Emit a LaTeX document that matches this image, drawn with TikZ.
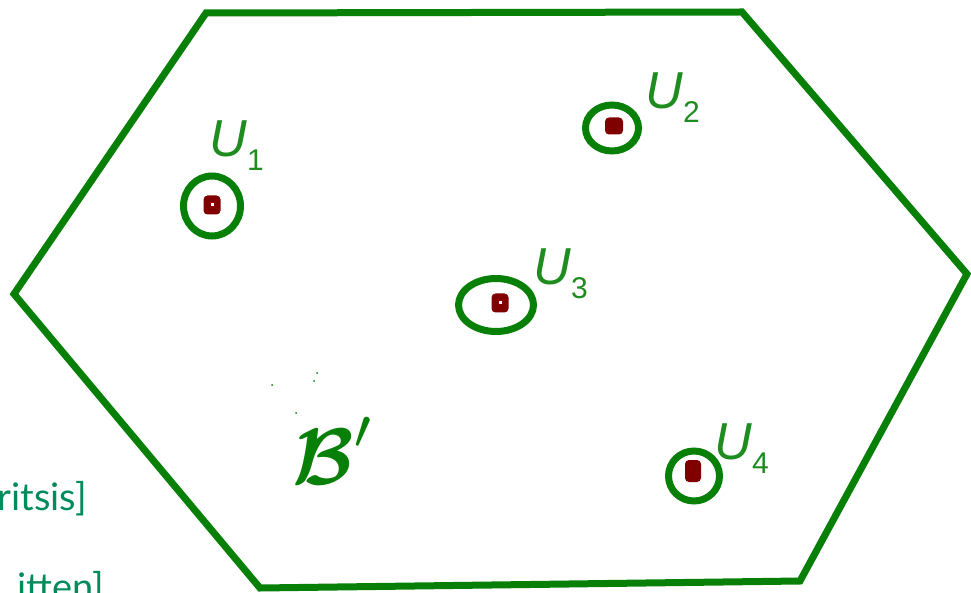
\documentclass[tikz,border=0pt]{standalone}
\usepackage{bm}
\usepackage{fontspec}
\setmainfont{Liberation Sans}
\newfontfamily\notefont{Lato}
\usetikzlibrary{shapes.geometric}
\definecolor{hexgreen}{RGB}{8,128,8}
\definecolor{labgreen}{RGB}{30,140,30}
\definecolor{dotred}{RGB}{128,0,0}
\definecolor{noteteal}{RGB}{0,140,90}
\tikzset{
  hexline/.style={draw=hexgreen, line width=7pt, line join=miter},
  ring/.style={ellipse, draw=hexgreen, line width=7pt, inner sep=0pt},
  pt/.style={rectangle, rounded corners=4pt, fill=dotred, inner sep=0pt},
  hole/.style={rectangle, fill=white, inner sep=0pt, minimum size=3pt},
  ulabel/.style={anchor=base west, inner sep=0pt, text=labgreen, font=\fontsize{52}{52}\selectfont},
  note/.style={anchor=base east, inner sep=0pt, text=noteteal, font=\notefont\fontsize{38}{40}\selectfont},
  speck/.style={circle, fill=hexgreen, inner sep=0pt, minimum size=2pt}
}
\newcommand{\ulab}[1]{\textit{U}\raisebox{-14pt}{\fontsize{30}{30}\selectfont #1}}
\begin{document}
\begin{tikzpicture}[x=1pt,y=-1pt]
\useasboundingbox[fill=white] (0,0) rectangle (971,593);
% hexagon
\coordinate (h1) at (206,13);
\coordinate (h2) at (742,12);
\coordinate (h3) at (967,274);
\coordinate (h4) at (800,581);
\coordinate (h5) at (260,588);
\coordinate (h6) at (14,294);
\draw[hexline] (h1) -- (h2) -- (h3) -- (h4) -- (h5) -- (h6) -- cycle;
% rings
\node[ring, minimum width=57pt, minimum height=60pt] (r1) at (212,206) {};
\node[ring, minimum width=53pt, minimum height=46pt] (r2) at (612,128) {};
\node[ring, minimum width=75pt, minimum height=53pt] (r3) at (496,305) {};
\node[ring, minimum width=51pt, minimum height=50pt] (r4) at (694,476) {};
% points
\node[pt, minimum width=17pt, minimum height=19pt] (p1) at (212,205) {};
\node[hole] (o1) at (p1) {};
\node[pt, minimum width=18pt, minimum height=17pt] (p2) at (614,126) {};
\node[pt, minimum width=17pt, minimum height=19pt] (p3) at (500,303) {};
\node[hole] (o3) at (p3) {};
\node[pt, minimum width=16pt, minimum height=22pt] (p4) at (693,471) {};
% labels
\node[ulabel] (l1) at (209,157) {\ulab{1}};
\node[ulabel] (l2) at (645,109) {\ulab{2}};
\node[ulabel] (l3) at (533,285) {\ulab{3}};
\node[ulabel] (l4) at (714,459) {\ulab{4}};
% B'
\node[anchor=base west, inner sep=0pt, text=hexgreen] (bp) at (292,484) {\scalebox{8}{$\bm{\mathcal{B}}'$}};
\node[speck] (s1) at (272,385) {};
\node[speck] (s2) at (317,373) {};
\node[speck] (s3) at (314,381) {};
\node[speck] (s4) at (296,413) {};
% cut-off notes
\node[note] (n1) at (87,510) {ritsis]};
\node[note] (n2) at (104,600) {itten]};
\end{tikzpicture}
\end{document}
